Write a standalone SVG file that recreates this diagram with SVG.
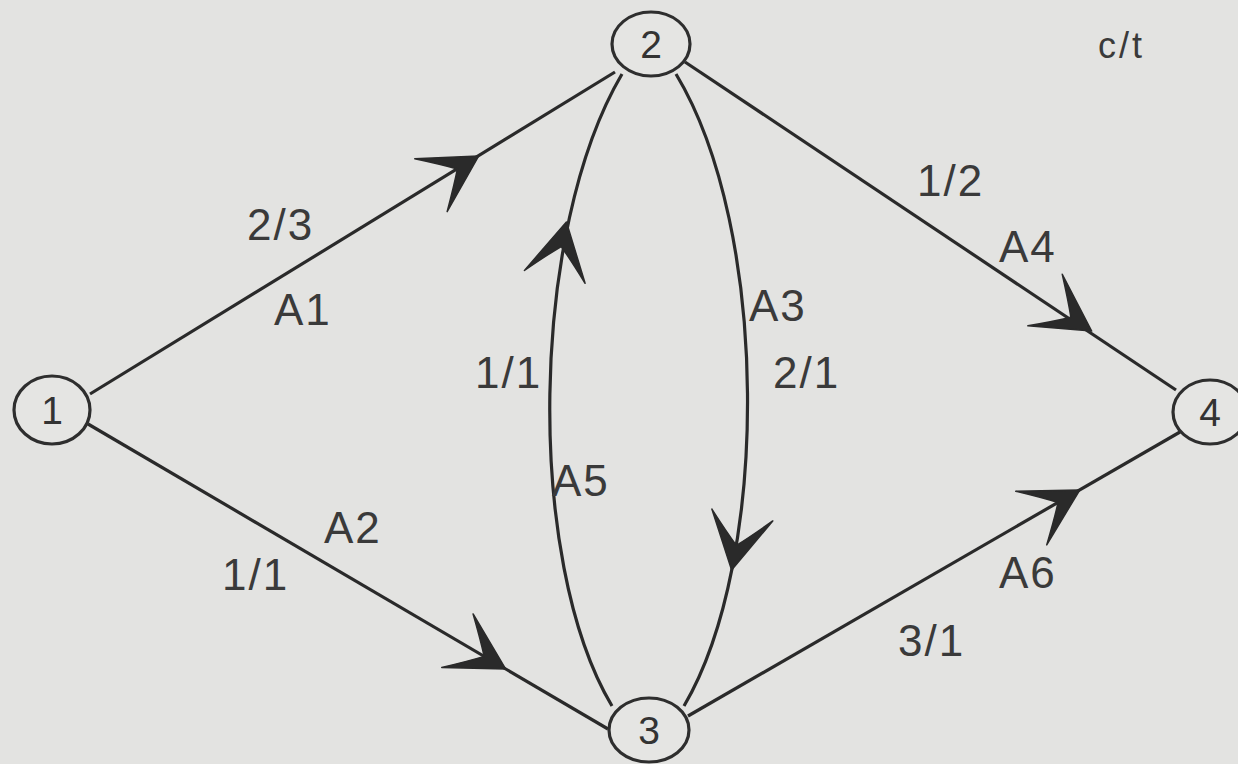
<svg xmlns="http://www.w3.org/2000/svg" xmlns:xlink="http://www.w3.org/1999/xlink" width="1238" height="764" viewBox="0 0 1238 764">
<style>
.bg{fill:#e3e3e1}
.node{fill:#e5e5e3;stroke:#2e2e2e;stroke-width:3.2}
.edge{fill:none;stroke:#2a2a2a;stroke-width:3.2}
.ah{fill:#2a2a2a;stroke:#2a2a2a;stroke-width:1.5;stroke-linejoin:round}
.num{font-family:"Liberation Sans",Arial,sans-serif;font-size:39px;fill:#333;text-anchor:middle}
.lbl{font-family:"Liberation Sans",Arial,sans-serif;font-size:44px;fill:#3a3a3a;letter-spacing:2px}
.ct{font-family:"Liberation Sans",Arial,sans-serif;font-size:36px;fill:#3a3a3a;letter-spacing:3px}
</style>
<defs>
<path id="ah" d="M2,0 L-54,-31 Q-34,-12 -23,0 Q-34,12 -54,31 Z"/>
</defs>
<rect class="bg" x="0" y="0" width="1238" height="764"/>
<g id="connectors">
<path id="A1" class="edge" d="M90,394 L615,72"/>
<path id="A2" class="edge" d="M88,424 L608,729"/>
<path id="A3" class="edge" d="M676,74 C770,230 770,560 684,706"/>
<path id="A4" class="edge" d="M685,62 L1176,390"/>
<path id="A5" class="edge" d="M622,74 C530,230 525,560 612,706"/>
<path id="A6" class="edge" d="M688,716 L1180,432"/>
<use class="ah" xlink:href="#ah" transform="translate(477,157) rotate(-31.5)"/>
<use class="ah" xlink:href="#ah" transform="translate(504,668) rotate(30.4)"/>
<use class="ah" xlink:href="#ah" transform="translate(732,568) rotate(101)"/>
<use class="ah" xlink:href="#ah" transform="translate(1090,330) rotate(33.7)"/>
<use class="ah" xlink:href="#ah" transform="translate(566,224) rotate(-78)"/>
<use class="ah" xlink:href="#ah" transform="translate(1078,491) rotate(-30)"/>
</g>
<g id="labels">
<text class="lbl" x="247" y="240">2/3</text>
<text class="lbl" x="274" y="325">A1</text>
<text class="lbl" x="917" y="196">1/2</text>
<text class="lbl" x="999" y="262">A4</text>
<text class="lbl" x="749" y="321">A3</text>
<text class="lbl" x="773" y="388">2/1</text>
<text class="lbl" x="475" y="388">1/1</text>
<text class="lbl" x="552" y="496">A5</text>
<text class="lbl" x="324" y="543">A2</text>
<text class="lbl" x="222" y="590">1/1</text>
<text class="lbl" x="999" y="588">A6</text>
<text class="lbl" x="898" y="656">3/1</text>
<text class="ct" x="1098" y="58">c/t</text>
</g>
<g id="node1"><ellipse class="node" cx="52" cy="410" rx="38" ry="34"/><text class="num" x="52" y="424">1</text></g>
<g id="node2"><ellipse class="node" cx="651" cy="44" rx="39" ry="32"/><text class="num" x="651" y="58">2</text></g>
<g id="node3"><ellipse class="node" cx="649" cy="730" rx="40" ry="32"/><text class="num" x="649" y="744">3</text></g>
<g id="node4"><ellipse class="node" cx="1210" cy="412" rx="37" ry="32"/><text class="num" x="1210" y="426">4</text></g>
</svg>
